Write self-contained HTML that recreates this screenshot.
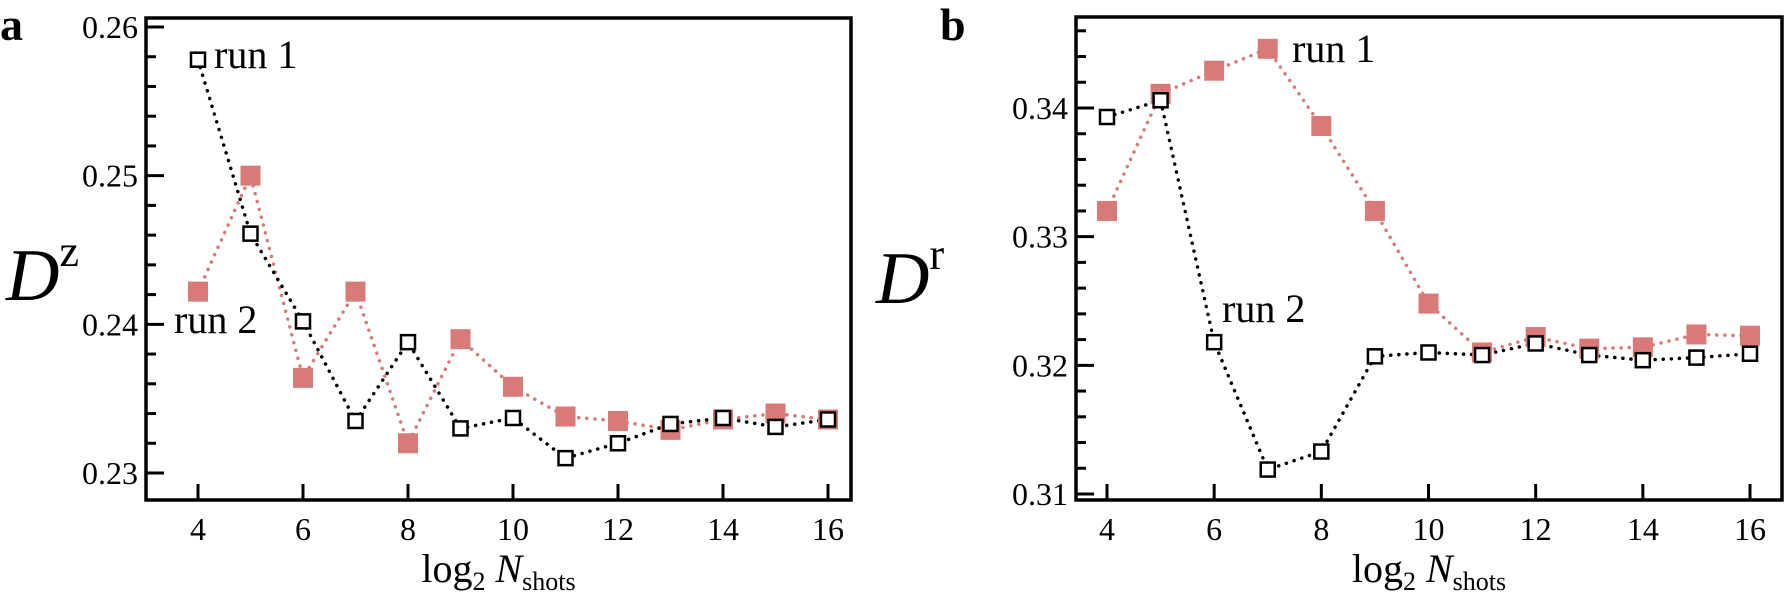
<!DOCTYPE html>
<html><head><meta charset="utf-8"><style>
html,body{margin:0;padding:0;background:#fff;}
svg text{font-family:"Liberation Serif",serif;fill:#000;}
</style></head><body>
<svg id="s" width="1785" height="594" viewBox="0 0 1785 594" xmlns="http://www.w3.org/2000/svg"></svg>
<script>
const NS="http://www.w3.org/2000/svg";const s=document.getElementById('s');
function el(t,a,txt){const e=document.createElementNS(NS,t);for(const k in a)e.setAttribute(k,a[k]);if(txt!==undefined)e.textContent=txt;s.appendChild(e);return e;}
function panel(p){
 const X=v=>p.x4+(v-4)*(p.x16-p.x4)/12;
 const Y=v=>p.y0+(v-p.v0)*(p.y1-p.y0)/(p.v1-p.v0);
 for(let v=p.minStart;v<=p.vmax+1e-9;v+=0.002){const y=Y(v);if(y<p.T||y>p.B)continue;
  const major=Math.abs(Math.round(v*100)-v*100)<1e-6;
  el('line',{x1:p.L,x2:p.L+(major?18:10),y1:y,y2:y,stroke:'#000','stroke-width':3});
  if(major)el('text',{x:p.L-8,y:y+11,'text-anchor':'end','font-size':32},v.toFixed(2));}
 for(let v=4;v<=16;v+=2){const x=X(v);el('line',{x1:x,x2:x,y1:p.B,y2:p.B-16,stroke:'#000','stroke-width':3});
  el('text',{x:x,y:p.B+40,'text-anchor':'middle','font-size':32},v);}
 el('rect',{x:p.L,y:p.T,width:p.R-p.L,height:p.B-p.T,fill:'none',stroke:'#000','stroke-width':3.5});
 const pts=d=>d.map((v,i)=>X(i+4)+','+Y(v)).join(' ');
 el('polyline',{points:pts(p.red),fill:'none',stroke:'#d87a78','stroke-width':3.5,'stroke-dasharray':'0.1 8','stroke-linecap':'round'});
 el('polyline',{points:pts(p.blk),fill:'none',stroke:'#000','stroke-width':3.5,'stroke-dasharray':'0.1 8','stroke-linecap':'round'});
 p.red.forEach((v,i)=>el('rect',{x:X(i+4)-10,y:Y(v)-10,width:20,height:20,fill:'#d87a78'}));
 p.blk.forEach((v,i)=>el('rect',{x:X(i+4)-7,y:Y(v)-7,width:14,height:14,fill:'#fff',stroke:'#000','stroke-width':2.5}));
 const xc=(p.L+p.R)/2;
 const t=el('text',{x:xc,y:582,'text-anchor':'middle','font-size':40});
 t.innerHTML='log<tspan font-size="26" dy="8">2</tspan><tspan dy="-8"> </tspan><tspan font-style="italic">N</tspan><tspan font-size="26" dy="8">shots</tspan>';
}
panel({L:146,R:851,T:18,B:500,x4:198,x16:828,v0:0.26,y0:27,v1:0.23,y1:473,minStart:0.23,vmax:0.2605,
 blk:[0.2578,0.2461,0.2402,0.2335,0.2388,0.2330,0.2337,0.2310,0.2320,0.2333,0.2337,0.2331,0.2336],
 red:[0.2422,0.2500,0.2364,0.2422,0.2320,0.2390,0.2358,0.2338,0.2335,0.2329,0.2336,0.2340,0.2336]});
panel({L:1076,R:1782,T:17,B:500,x4:1107,x16:1750,v0:0.34,y0:108,v1:0.31,y1:494,minStart:0.31,vmax:0.3465,
 blk:[0.3393,0.3406,0.3218,0.3119,0.3133,0.3207,0.3210,0.3208,0.3217,0.3208,0.3204,0.3206,0.3209],
 red:[0.3320,0.3411,0.3429,0.3446,0.3386,0.3320,0.3248,0.3210,0.3222,0.3213,0.3214,0.3224,0.3223]});
el('text',{x:0,y:40,'font-size':46,'font-weight':'bold'},'a');
el('text',{x:940,y:40,'font-size':46,'font-weight':'bold'},'b');
el('text',{x:214,y:68,'font-size':40},'run 1');
el('text',{x:174,y:333,'font-size':40},'run 2');
el('text',{x:1292,y:62,'font-size':40},'run 1');
el('text',{x:1222,y:322,'font-size':40},'run 2');
let y1=el('text',{x:6,y:300,'font-size':74,'font-style':'italic'});y1.innerHTML='D<tspan font-size="44" font-style="normal" dy="-34">z</tspan>';
let y2=el('text',{x:876,y:303,'font-size':74,'font-style':'italic'});y2.innerHTML='D<tspan font-size="44" font-style="normal" dy="-34">r</tspan>';
</script>
</body></html>
